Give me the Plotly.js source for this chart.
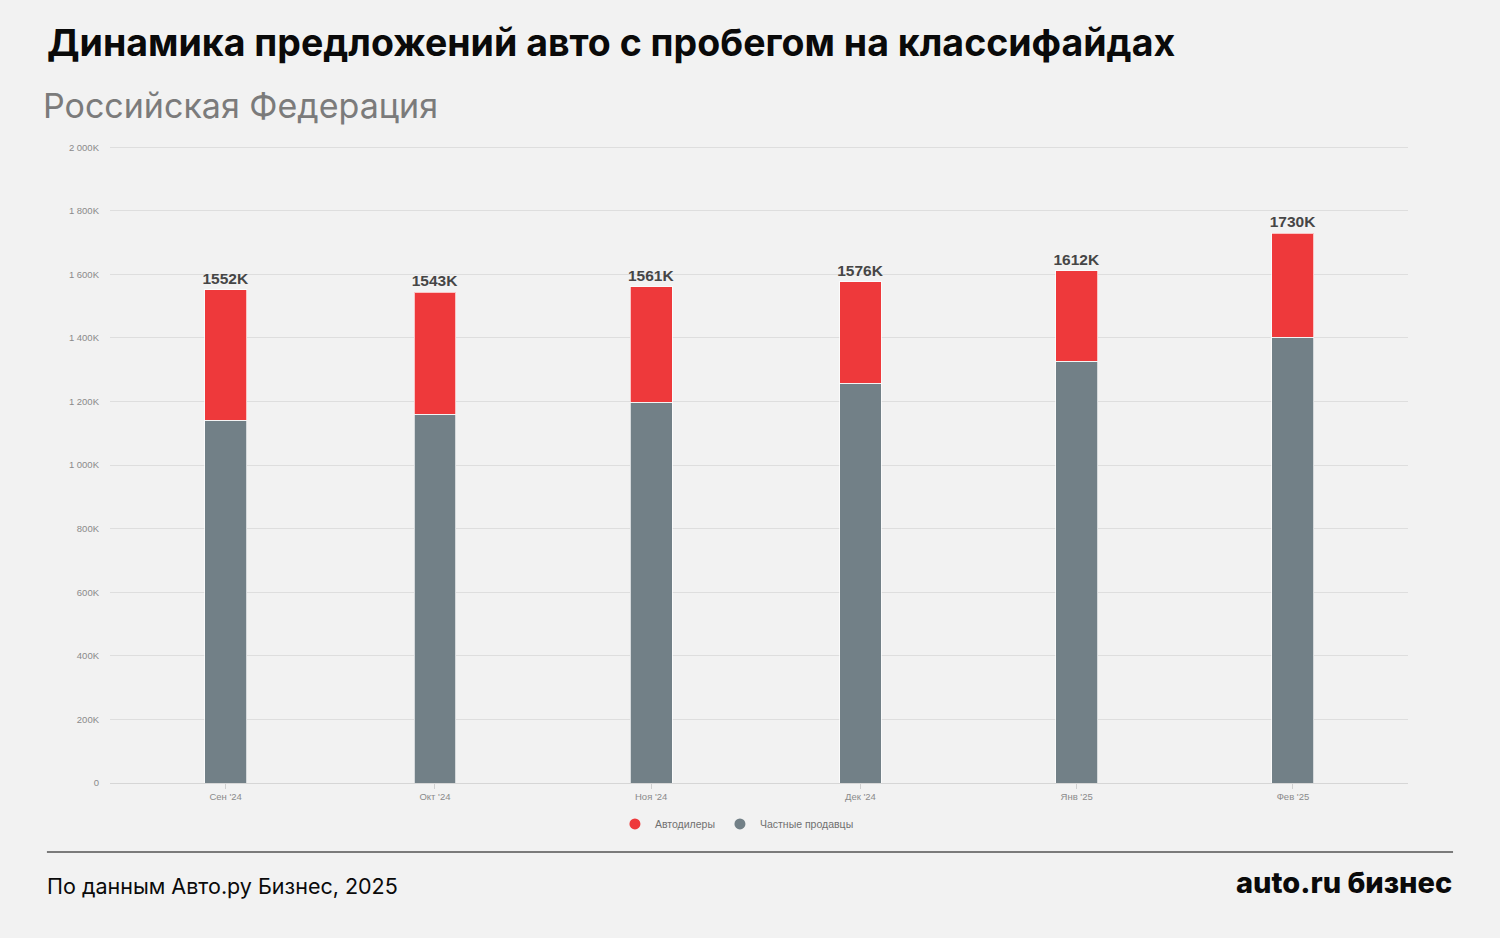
<!DOCTYPE html>
<html>
<head>
<meta charset="utf-8">
<script src="https://cdn.plot.ly/plotly-3.0.1.min.js"></script>
<style>
  html, body { margin: 0; padding: 0; background: #f2f2f2; }
  #chart { width: 1500px; height: 938px; }
</style>
</head>
<body>
<div id="chart"></div>
<script>
// months (first day) and their axis labels
const months = ['2024-09-01', '2024-10-01', '2024-11-01', '2024-12-01', '2025-01-01', '2025-02-01'];
const monthLabels = ["Сен '24", "Окт '24", "Ноя '24", "Дек '24", "Янв '25", "Фев '25"];

// offers, thousands
const privateSellers = [1141, 1160, 1198, 1258, 1327, 1402];
const dealers = [411, 383, 363, 318, 285, 328];

const yTicks = [0, 200, 400, 600, 800, 1000, 1200, 1400, 1600, 1800, 2000];
const yTickLabels = ['0', '200K', '400K', '600K', '800K', '1 000K', '1 200K', '1 400K', '1 600K', '1 800K', '2 000K'];

const RED = '#ee393b';
const GREY = '#728087';
const DAY = 86400000;

const totals = privateSellers.map((v, i) => v + dealers[i]);

const barLine = { width: 1, color: 'rgba(255,255,255,0.7)' };

const data = [
    {
        type: 'bar',
        name: 'Частные продавцы',
        x: months,
        y: privateSellers,
        width: 6 * DAY,
        marker: { color: GREY, line: barLine },
        showlegend: false,
        hoverinfo: 'skip'
    },
    {
        type: 'bar',
        name: 'Автодилеры',
        x: months,
        y: dealers,
        width: 6 * DAY,
        marker: { color: RED, line: barLine },
        text: totals.map(t => t + 'K'),
        textposition: 'outside',
        constraintext: 'none',
        cliponaxis: false,
        textfont: { family: 'Liberation Sans, Arial, sans-serif', size: 15.5, color: '#464646', weight: 'bold' },
        showlegend: false,
        hoverinfo: 'skip'
    },
    // legend-only entries with round markers
    {
        type: 'scatter', mode: 'markers', name: 'Автодилеры',
        x: [null], y: [null], marker: { color: RED, size: 11, symbol: 'circle' }
    },
    {
        type: 'scatter', mode: 'markers', name: 'Частные продавцы',
        x: [null], y: [null], marker: { color: GREY, size: 11, symbol: 'circle' }
    }
];

const layout = {
    width: 1500,
    height: 938,
    paper_bgcolor: '#f2f2f2',
    plot_bgcolor: '#f2f2f2',
    barmode: 'stack',
    margin: { t: 144, l: 110, r: 92, b: 155 },
    font: { family: 'Liberation Sans, Arial, sans-serif', color: '#8a8a8a', size: 9 },
    xaxis: {
        type: 'date',
        range: ['2024-08-15 10:00', '2025-02-17 12:00'],
        tickvals: months,
        ticktext: monthLabels,
        ticks: 'outside',
        ticklen: 5,
        tickcolor: '#d0d0d0',
        showgrid: false,
        showline: true,
        linecolor: '#d6d6d6',
        linewidth: 1,
        tickfont: { size: 9.5, color: '#8a8a8a' },
        fixedrange: true
    },
    yaxis: {
        range: [0, 2010],
        tickmode: 'array',
        tickvals: yTicks,
        ticktext: yTickLabels,
        showgrid: true,
        gridcolor: '#dedede',
        zeroline: false,
        ticks: '',
        ticklabelstandoff: 10,
        tickfont: { size: 9.5, color: '#8a8a8a' },
        fixedrange: true
    },
    legend: {
        orientation: 'h',
        traceorder: 'normal',
        x: 0.483,
        xanchor: 'center',
        y: -0.064,
        yanchor: 'middle',
        font: { size: 10.5, color: '#707070' },
        bgcolor: 'rgba(0,0,0,0)'
    },
    shapes: [
        {
            type: 'line', xref: 'paper', yref: 'paper',
            x0: -0.0486, x1: 1.0347, y0: -0.108, y1: -0.108,
            line: { color: '#7b7b7b', width: 2 }
        }
    ],
    annotations: [
        {
            xref: 'paper', yref: 'paper', x: -0.0501, y: 1.1581, xanchor: 'left', yanchor: 'middle',
            text: 'Динамика предложений авто с пробегом на классифайдах',
            showarrow: false,
            font: { family: 'Inter, Noto Sans, sans-serif', size: 37.5, color: '#0a0a0a', weight: 'bold' }
        },
        {
            xref: 'paper', yref: 'paper', x: -0.0533, y: 1.0595, xanchor: 'left', yanchor: 'middle',
            text: 'Российская Федерация',
            showarrow: false,
            font: { family: 'Inter, Noto Sans, sans-serif', size: 34, color: '#7b7b7b' }
        },
        {
            xref: 'paper', yref: 'paper', x: -0.0501, y: -0.1612, xanchor: 'left', yanchor: 'middle',
            text: 'По данным Авто.ру Бизнес, 2025',
            showarrow: false,
            font: { family: 'Inter, Noto Sans, sans-serif', size: 21.5, color: '#0a0a0a' }
        },
        {
            xref: 'paper', yref: 'paper', x: 1.0355, y: -0.155, xanchor: 'right', yanchor: 'middle',
            text: 'auto.ru бизнес',
            showarrow: false,
            font: { family: 'Inter, Noto Sans, sans-serif', size: 29, color: '#0a0a0a', weight: 800 }
        }
    ]
};

Plotly.newPlot('chart', data, layout, { displayModeBar: false, staticPlot: true });
</script>
</body>
</html>
